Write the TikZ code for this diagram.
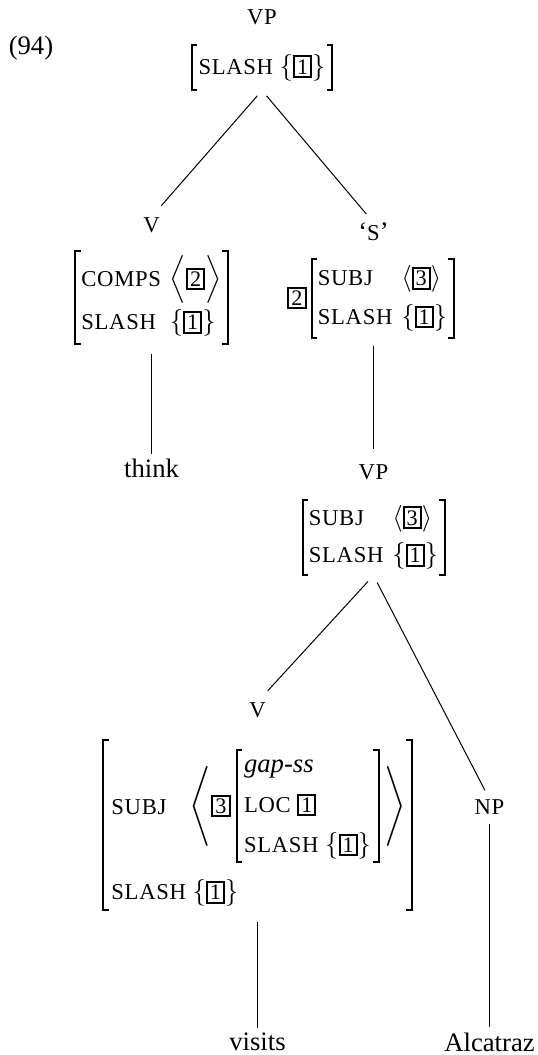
\documentclass[tikz,border=0pt]{standalone}
\usepackage{fontspec}
\usepackage{amsmath}
\setmainfont{Liberation Serif}
\newfontfamily\featfont[Scale=0.85,LetterSpace=3]{Liberation Serif}
\newcommand{\feat}[1]{{\featfont #1}}
\newcommand{\tg}[1]{{\setlength{\fboxrule}{0.9pt}\setlength{\fboxsep}{0.9pt}\fbox{\fontsize{10}{10}\selectfont #1}}}
\newcommand{\ob}{$\{$}
\newcommand{\cb}{$\}$}
% eckige Klammern links und rechts an einem Knoten
\newcommand{\avmbr}[1]{%
  \draw[bracket] ([xshift=2.5pt]#1.north west) -- (#1.north west) -- (#1.south west) -- ([xshift=2.5pt]#1.south west);
  \draw[bracket] ([xshift=-2.5pt]#1.north east) -- (#1.north east) -- (#1.south east) -- ([xshift=-2.5pt]#1.south east);}

\begin{document}
\fontsize{12}{14.4}\selectfont
\begin{tikzpicture}[x=0.45pt,y=-0.45pt,
    cat/.style={font=\featfont, inner sep=0pt},
    word/.style={inner sep=0pt},
    avm/.style={inner xsep=2.5pt, inner ysep=0pt},
    branch/.style={line width=0.45pt},
    bracket/.style={line width=0.9pt}]
  \useasboundingbox (0,0) rectangle (538,1055);

  % Nummer
  \node[word] (ex) at (31,48) {(94)};

  % VP oben
  \node[cat] (vp0) at (262,17) {VP};
  \node[avm, minimum width=63pt, minimum height=20.25pt] (vp0avm) at (262,67.5) {\feat{SLASH} \ob\tg{1}\cb};
  \avmbr{vp0avm}

  % V mit COMPS
  \node[cat] (v1) at (151.5,225) {V};
  \node[avm, minimum width=66pt, minimum height=41pt] (v1avm) at (151.5,297.5) {%
    \begin{tabular}{@{}l@{\hspace{4pt}}l@{}}
      \feat{COMPS} & $\Bigl\langle$\tg{2}$\Bigr\rangle$\\[5pt]
      \feat{SLASH} & \ob\tg{1}\cb
    \end{tabular}};
  \avmbr{v1avm}

  % 'S'
  \node[word] (s1) at (373.5,232) {‘\feat{S}’};
  \node[word] (tag2) at (297,298) {\tg{2}};
  \node[avm, minimum width=63.5pt, minimum height=34.7pt] (s1avm) at (382.5,298.5) {%
    \begin{tabular}{@{}l@{\hspace{4pt}}l@{}}
      \feat{SUBJ} & $\langle$\tg{3}$\rangle$\\[3pt]
      \feat{SLASH} & \ob\tg{1}\cb
    \end{tabular}};
  \avmbr{s1avm}

  \node[word] (think) at (151.5,468) {think};

  % VP unten
  \node[cat] (vp2) at (373.5,472) {VP};
  \node[avm, minimum width=63.5pt, minimum height=33.75pt] (vp2avm) at (373.5,537.5) {%
    \begin{tabular}{@{}l@{\hspace{4pt}}l@{}}
      \feat{SUBJ} & $\langle$\tg{3}$\rangle$\\[2.5pt]
      \feat{SLASH} & \ob\tg{1}\cb
    \end{tabular}};
  \avmbr{vp2avm}

  % V mit gap-ss
  \node[cat] (v3) at (257.5,710) {V};
  \node[avm, minimum width=138.6pt, minimum height=76.5pt] (v3avm) at (257.5,825) {};
  \avmbr{v3avm}
  \node[word, anchor=west] (subj3) at (111,807) {\feat{SUBJ}};
  \node[word] (la3) at (200,806) {$\Bigg\langle$};
  \node[word] (tag3) at (221,806) {\tg{3}};
  \node[avm, minimum width=63.5pt, minimum height=48.6pt] (inner3) at (307.5,806) {%
    \begin{tabular}{@{}l@{}}
      \textit{gap-ss}\\[3.5pt]
      \feat{LOC} \tg{1}\\[3.5pt]
      \feat{SLASH} \ob\tg{1}\cb
    \end{tabular}};
  \avmbr{inner3}
  \node[word] (ra3) at (395,806) {$\Bigg\rangle$};
  \node[word, anchor=west] (slash3) at (111,893) {\feat{SLASH} \ob\tg{1}\cb};

  \node[cat] (np) at (489.5,807) {NP};
  \node[word] (visits) at (257.5,1042) {visits};
  \node[word] (alc) at (489.5,1042) {Alcatraz};

  % Kanten
  \draw[branch, shorten <=3.2pt, shorten >=6.75pt] (vp0avm.south) -- (v1.north);
  \draw[branch, shorten <=3.2pt, shorten >=5pt] (vp0avm.south) -- (s1.north);
  \draw[branch, shorten <=4.5pt, shorten >=1.8pt] (v1avm.south) -- (think.north);
  \draw[branch, shorten <=3.6pt, shorten >=6.75pt] (s1avm.south -| s1) -- (vp2.north);
  \draw[branch, shorten <=3.6pt, shorten >=6.75pt] (vp2avm.south) -- (v3.north);
  \draw[branch, shorten <=3.6pt, shorten >=4.5pt] (vp2avm.south) -- (np.north);
  \draw[branch, shorten <=5.4pt, shorten >=2.2pt] (v3avm.south) -- (visits.north);
  \draw[branch, shorten <=4pt, shorten >=2.2pt] (np.south) -- (alc.north);
\end{tikzpicture}
\end{document}
